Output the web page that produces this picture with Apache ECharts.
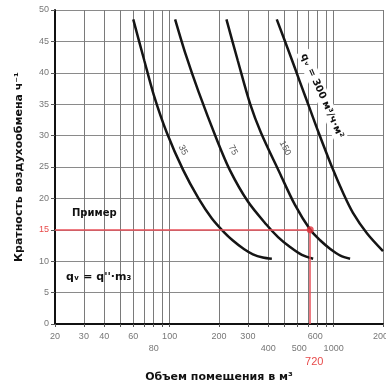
<!DOCTYPE html>
<html>
<head>
<meta charset="utf-8">
<script src="https://cdn.jsdelivr.net/npm/echarts@6/dist/echarts.min.js"></script>
<style>
html, body { margin: 0; padding: 0; background: #fff; }
#chart { width: 386px; height: 380px; }
</style>
</head>
<body>
<div id="chart"></div>
<script>
// кривые: [объем помещения м3, кратность воздухообмена 1/ч]
var curve35 = [[60, 48.5], [70, 42], [80, 36.5], [96, 30.5], [121, 24.5], [150, 20], [181, 16.8], [215, 14.6], [243, 13.3], [285, 11.9], [322, 11.1], [370, 10.6], [420, 10.4]]
var curve75 = [[108, 48.5], [125, 43], [150, 37], [193, 29.5], [233, 24.5], [300, 19.5], [390, 15.8], [460, 13.8], [540, 12.3], [640, 11], [750, 10.4]]
var curve150 = [[222, 48.5], [260, 42], [310, 35], [360, 30.5], [470, 24], [580, 19], [720, 15], [830, 13.3], [950, 12], [1100, 10.9], [1260, 10.4]]
var curve300 = [[450, 48.5], [540, 43], [622, 38.6], [720, 34.1], [804, 30.7], [977, 25], [1150, 20.7], [1312, 17.7], [1600, 14.4], [2000, 11.6]]

// пример
var exampleV = 720
var exampleN = 15

// оси
var xTicks = [20, 30, 40, 50, 60, 70, 80, 90, 100, 200, 300, 400, 500, 600, 700, 800, 900, 1000, 2000]
var xLabels = [20, 30, 40, 60, 80, 100, 200, 300, 400, 500, 600, 720, 1000, 2000]
var xLabelsLow = [80, 400, 500, 1000]
var yMin = 0
var yMax = 50
var yStep = 5

var chart = echarts.init(document.getElementById('chart'))
var deg = Math.PI / 180

function curveSeries(data) {
    return {
        type: 'line',
        data: data,
        smooth: 0.3,
        symbol: 'none',
        silent: true,
        lineStyle: { color: '#151515', width: 2.5 },
        z: 3,
    }
}

var option = {
    animation: false,
    backgroundColor: '#fff',
    grid: { left: 55, right: 3, top: 10, bottom: 56, outerBoundsMode: 'none' },
    xAxis: {
        type: 'log',
        logBase: 10,
        min: 20,
        max: 2000,
        axisLine: { lineStyle: { color: '#111', width: 2 } },
        axisTick: { show: true, customValues: xTicks, length: 3, lineStyle: { color: '#555' } },
        axisLabel: {
            customValues: xLabels,
            fontSize: 9,
            color: '#777',
            margin: 8,
            formatter: function(v) {
                if (v === exampleV) return '{r|' + v + '}'
                if (v === 500) return '{d5|' + v + '}'
                if (v === 600) return '{u6|' + v + '}'
                if (xLabelsLow.indexOf(v) >= 0) return '{d|' + v + '}'
                return '{u|' + v + '}'
            },
            rich: {
                u: { fontSize: 9, color: '#777' },
                u6: { fontSize: 9, color: '#777', padding: [0, 0, 0, 36] },
                d: { fontSize: 9, color: '#777', padding: [12, 0, 0, 0] },
                d5: { fontSize: 9, color: '#777', padding: [12, 0, 0, 30] },
                r: { fontSize: 11, color: '#e84a4a', padding: [24, 0, 0, 8] },
            },
        },
        splitLine: { show: true, lineStyle: { color: '#7a7a7a', width: 1 } },
        name: 'Объем помещения в м³',
        nameLocation: 'middle',
        nameGap: 40,
        nameTextStyle: { fontSize: 11, fontWeight: 'bold', color: '#111', fontFamily: 'DejaVu Sans' },
    },
    yAxis: {
        type: 'value',
        min: yMin,
        max: yMax,
        interval: yStep,
        axisLine: { show: true, lineStyle: { color: '#111', width: 2 } },
        axisTick: { show: true, length: 4, lineStyle: { color: '#555' } },
        axisLabel: {
            fontSize: 9,
            color: '#777',
            margin: 6,
            formatter: function(v) {
                return v === exampleN ? '{r|' + v + '}' : v
            },
            rich: { r: { fontSize: 9, color: '#e84a4a' } },
        },
        splitLine: { show: true, lineStyle: { color: '#8a8a8a', width: 1 } },
        name: 'Кратность воздухообмена ч⁻¹',
        nameLocation: 'middle',
        nameGap: 30,
        nameTextStyle: { fontSize: 11, fontWeight: 'bold', color: '#111', fontFamily: 'DejaVu Sans' },
    },
    series: [
        curveSeries(curve35),
        curveSeries(curve75),
        curveSeries(curve150),
        curveSeries(curve300),
        {
            type: 'scatter',
            data: [[exampleV, exampleN]],
            symbolSize: 7,
            itemStyle: { color: '#e0303a' },
            silent: true,
            z: 5,
            markLine: {
                silent: true,
                symbol: 'none',
                label: { show: false },
                lineStyle: { color: '#e8505a', width: 1.5, type: 'solid' },
                data: [
                    [{ coord: [20, exampleN] }, { coord: [exampleV, exampleN] }],
                    [{ coord: [exampleV, exampleN] }, { coord: [exampleV, 0] }],
                ],
            },
        },
    ],
    graphic: [
        {
            type: 'text', x: 72, y: 208, z: 10,
            style: { text: 'Пример', fontSize: 10, fontWeight: 'bold', fill: '#111', fontFamily: 'DejaVu Sans' },
        },
        {
            type: 'text', x: 66, y: 272, z: 10,
            style: { text: 'qᵥ = q\'\'·m₃', fontSize: 11, fontWeight: 'bold', fill: '#111', fontFamily: 'DejaVu Sans' },
        },
        {
            type: 'text', x: 183, y: 150, rotation: -62 * deg, z: 10,
            style: { text: '35', fontSize: 9, fill: '#555', align: 'center', verticalAlign: 'middle' },
        },
        {
            type: 'text', x: 233, y: 150, rotation: -62 * deg, z: 10,
            style: { text: '75', fontSize: 9, fill: '#555', align: 'center', verticalAlign: 'middle' },
        },
        {
            type: 'text', x: 285, y: 148, rotation: -62 * deg, z: 10,
            style: { text: '150', fontSize: 9, fill: '#555', align: 'center', verticalAlign: 'middle' },
        },
        {
            type: 'text', x: 322, y: 96, rotation: -66 * deg, z: 10,
            style: {
                text: 'qᵥ = 300 м³/ч·м²', fontSize: 10, fontWeight: 'bold', fill: '#111',
                align: 'center', verticalAlign: 'middle', fontFamily: 'DejaVu Sans',
                backgroundColor: '#fff', padding: [2, 3],
            },
        },
    ],
}
option && chart.setOption(option)
</script>
</body>
</html>
